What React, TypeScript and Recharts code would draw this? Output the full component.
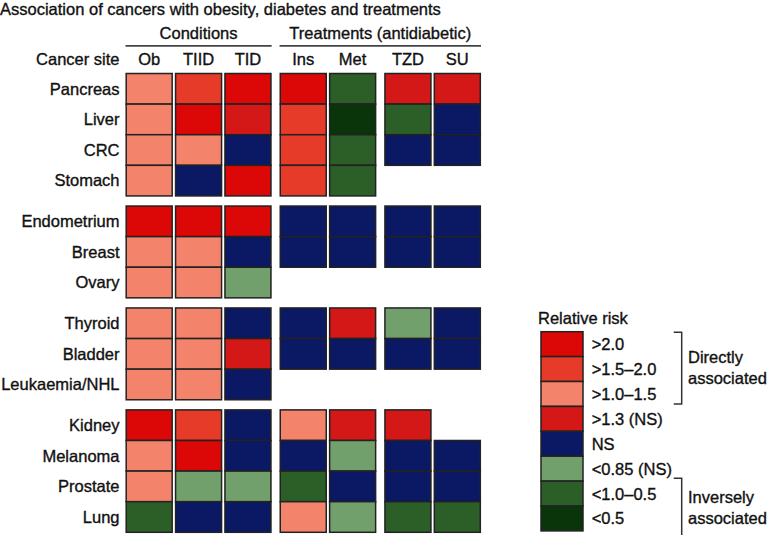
import React from "react";
import { ScatterChart, Scatter, XAxis, YAxis, ReferenceLine, Legend, Customized } from "recharts";

const FONT = '"Liberation Sans", Arial, sans-serif';
const FS = 16.5;
const INK = "#111";
const THICK = { stroke: INK, strokeWidth: 0.35 };

const sites = [
  "Pancreas", "Liver", "CRC", "Stomach",
  "Endometrium", "Breast", "Ovary",
  "Thyroid", "Bladder", "Leukaemia/NHL",
  "Kidney", "Melanoma", "Prostate", "Lung",
];
const siteGroup = [0, 0, 0, 0, 1, 1, 1, 2, 2, 2, 3, 3, 3, 3];

const columns = ["Ob", "TIID", "TID", "Ins", "Met", "TZD", "SU"];
const columnGroup = [0, 0, 0, 1, 1, 2, 2];

const riskLabels = [">2.0", ">1.5–2.0", ">1.0–1.5", ">1.3 (NS)", "NS", "<0.85 (NS)", "<1.0–0.5", "<0.5"];
const riskColors = ["#dc0707", "#e63b29", "#f3836b", "#d41717", "#0b1863", "#72a06c", "#2c5e28", "#0a3409"];

// index into riskLabels per cancer site, null = no data
const ob = [2, 2, 2, 2, 0, 2, 2, 2, 2, 2, 0, 2, 2, 6];
const tiid = [1, 0, 2, 4, 0, 2, 2, 2, 2, 2, 1, 0, 5, 4];
const tid = [0, 3, 4, 0, 0, 4, 5, 4, 3, 4, 4, 4, 5, 4];
const ins = [0, 1, 1, 1, 4, 4, null, 4, 4, null, 2, 4, 6, 2];
const met = [6, 7, 6, 6, 4, 4, null, 3, 4, null, 3, 5, 4, 5];
const tzd = [3, 6, 4, null, 4, 4, null, 5, 4, null, 3, 4, 4, 6];
const su = [3, 4, 4, null, 4, 4, null, 4, 4, null, null, 4, 4, 6];

const series = [ob, tiid, tid, ins, met, tzd, su];

const GROUP_GAP = 0.33;
const COL_GAP = 0.12;
const HALF = 0.48;
const HEADER_Y = -1.4;
const CELL_W = 46;
const CELL_H = 30.6;

const rowY = sites.map((_, i) => i + siteGroup[i] * GROUP_GAP);
const colX = columns.map((_, i) => i + columnGroup[i] * COL_GAP);

const cells = series.flatMap((vals, c) =>
  vals
    .map((v, r) => (v == null ? null : { x: colX[c], y: rowY[r], risk: v }))
    .filter((d) => d !== null)
);

const HeatCell = (props: any) => {
  const { cx, cy, payload } = props;
  return (
    <rect
      x={cx - CELL_W / 2}
      y={cy - CELL_H / 2}
      width={CELL_W}
      height={CELL_H}
      fill={riskColors[payload.risk]}
      stroke="#222"
      strokeWidth={1.5}
    />
  );
};

const LegendText = ({ x, y, children }: any) => (
  <text x={x} y={y} dominantBaseline="central" fontSize={FS} fill={INK} {...THICK}>
    {children}
  </text>
);

const RiskLegend = () => {
  const rowH = 24.9;
  const top = 26.7;
  return (
    <svg width={232} height={231} style={{ fontFamily: FONT, display: "block", overflow: "visible" }}>
      <LegendText x={2} y={13}>Relative risk</LegendText>
      {riskLabels.map((lab, i) => (
        <g key={lab}>
          <rect x={5} y={top + i * rowH} width={42} height={rowH} fill={riskColors[i]} stroke="#222" strokeWidth={1.5} />
          <LegendText x={55.7} y={top + i * rowH + rowH / 2}>{lab}</LegendText>
        </g>
      ))}
      <path d="M137.7 27.3 H145.7 V99 H137.7" fill="none" stroke="#333" strokeWidth={1.5} />
      <LegendText x={152} y={52}>Directly</LegendText>
      <LegendText x={152} y={73}>associated</LegendText>
      <path d="M137.7 173.3 H145.7 V230" fill="none" stroke="#333" strokeWidth={1.5} />
      <LegendText x={152} y={192}>Inversely</LegendText>
      <LegendText x={152} y={213}>associated</LegendText>
    </svg>
  );
};

const Headings = () => (
  <g style={{ fontFamily: FONT }}>
    <text x={0} y={15} fontSize={FS} fill={INK} {...THICK}>
      Association of cancers with obesity, diabetes and treatments
    </text>
    <text x={119.5} y={65} textAnchor="end" fontSize={FS} fill={INK} {...THICK}>
      Cancer site
    </text>
  </g>
);

export default function App() {
  return (
    <div style={{ position: "absolute", left: 0, top: 0, width: 768, height: 536, fontFamily: FONT, background: "#fff" }}>
      <ScatterChart width={768} height={536} margin={{ top: 0, right: 286, bottom: 3.7, left: 0 }}>
        <XAxis
          type="number"
          dataKey="x"
          orientation="top"
          domain={[-0.5, colX[colX.length - 1] + 0.5]}
          ticks={colX}
          interval={0}
          tickFormatter={(_v: number, i: number) => columns[i]}
          axisLine={false}
          tickLine={false}
          tickSize={0}
          tickMargin={8.5}
          height={73.5}
          tick={{ fontSize: FS, fill: INK, ...THICK }}
        />
        <YAxis
          type="number"
          dataKey="y"
          reversed
          domain={[-0.5, rowY[rowY.length - 1] + 0.5]}
          ticks={rowY}
          interval={0}
          tickFormatter={(_v: number, i: number) => sites[i]}
          axisLine={false}
          tickLine={false}
          tickSize={0}
          tickMargin={5}
          width={124.5}
          tick={{ fontSize: FS, fill: INK, ...THICK }}
        />
        <Scatter data={cells} shape={HeatCell} isAnimationActive={false} legendType="none" />
        <ReferenceLine
          segment={[{ x: colX[0] - HALF, y: HEADER_Y }, { x: colX[2] + HALF, y: HEADER_Y }]}
          stroke="#444"
          strokeWidth={1.8}
          ifOverflow="visible"
          label={{ value: "Conditions", position: "top", offset: 7, fontSize: FS, fill: INK, ...THICK }}
        />
        <ReferenceLine
          segment={[{ x: colX[3] - HALF, y: HEADER_Y }, { x: colX[6] + HALF, y: HEADER_Y }]}
          stroke="#444"
          strokeWidth={1.8}
          ifOverflow="visible"
          label={{ value: "Treatments (antidiabetic)", position: "top", offset: 7, fontSize: FS, fill: INK, ...THICK }}
        />
        <Legend
          layout="horizontal"
          align="center"
          verticalAlign="middle"
          width={232}
          height={231}
          wrapperStyle={{ left: 536, top: 305 }}
          content={() => <RiskLegend />}
        />
        <Customized component={Headings} />
      </ScatterChart>
    </div>
  );
}
